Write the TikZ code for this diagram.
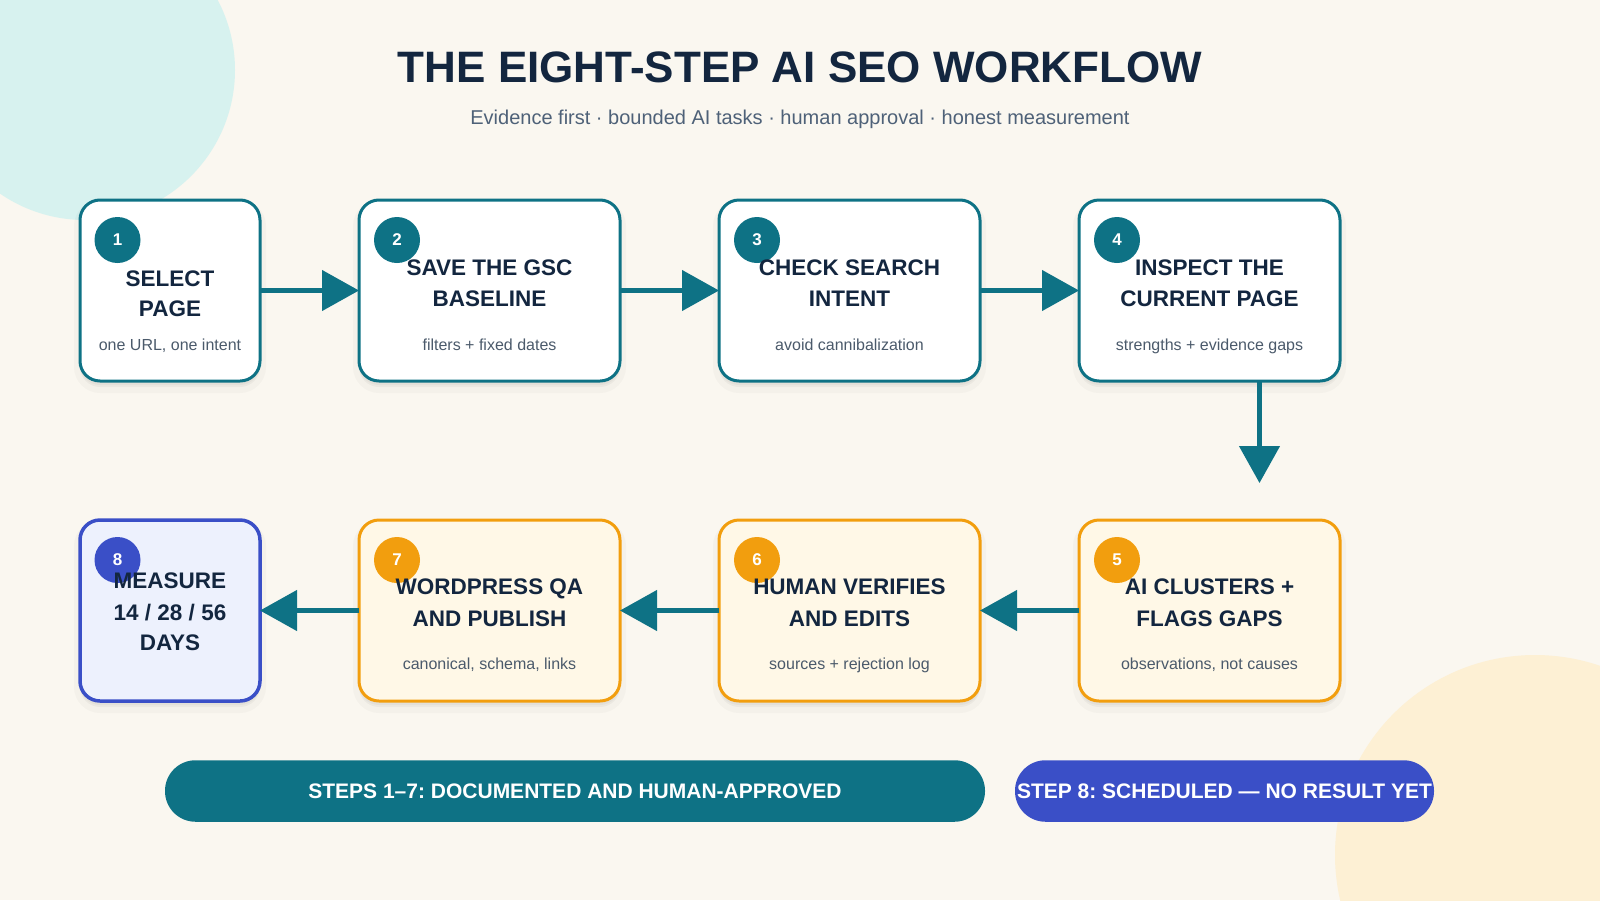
\documentclass[tikz,border=0pt]{standalone}
\usepackage{fontspec}
\setmainfont{Liberation Sans}
\frenchspacing
\usetikzlibrary{arrows.meta}
\definecolor{bgc}{HTML}{FAF7F0}
\definecolor{mint}{HTML}{D7F2EF}
\definecolor{peach}{HTML}{FDF0D4}
\definecolor{cteal}{HTML}{0E7285}
\definecolor{corange}{HTML}{F29E0E}
\definecolor{ofill}{HTML}{FFF8E7}
\definecolor{cblue}{HTML}{3A4FC7}
\definecolor{bfill}{HTML}{EDF1FD}
\definecolor{navy}{HTML}{13263F}
\definecolor{subc}{HTML}{4B5A6B}
\definecolor{subt}{HTML}{4E6178}
\tikzset{
  x=0.5pt, y=-0.5pt,
  boxbase/.style={rounded corners=10pt, line width=1.5pt, inner sep=0pt, outer sep=0pt,
    minimum height=90.5pt,
    preaction={draw=black, draw opacity=0.025, line width=6pt, fill=black, fill opacity=0.035,
      transform canvas={yshift=-3pt}},
    preaction={fill=black, fill opacity=0.03, transform canvas={yshift=-2pt}}},
  tealbox/.style={boxbase, draw=cteal, fill=white},
  orangebox/.style={boxbase, draw=corange, fill=ofill},
  bluebox/.style={boxbase, draw=cblue, fill=bfill, line width=1.75pt},
  badge/.style={circle, minimum size=23pt, inner sep=0pt, text=white,
    font=\fontsize{8.5}{10}\selectfont\bfseries},
  ttl/.style={anchor=base, inner sep=0pt, text=navy, font=\fontsize{11.25}{13}\selectfont\bfseries},
  sub/.style={anchor=base, inner sep=0pt, text=subc, font=\fontsize{8}{10}\selectfont},
  flow/.style={draw=cteal, line width=2.25pt, -{Triangle[length=18.5pt,width=20pt]}},
  pill/.style={rounded corners=15.25pt, minimum height=30.75pt, inner sep=0pt, text=white,
    font=\fontsize{10.5}{12}\selectfont\bfseries}
}
\begin{document}
\begin{tikzpicture}
\useasboundingbox (0,0) rectangle (1600,900);
\fill[bgc] (0,0) rectangle (1600,900);
\begin{scope}
\clip (0,0) rectangle (1600,900);
\fill[mint] (85,70) circle[radius=75pt];
\fill[peach] (1535,855) circle[radius=100pt];
\end{scope}

% title
\node[anchor=base, inner sep=0pt, text=navy, font=\fontsize{22}{26}\selectfont\bfseries] (title) at (800,82.5) {THE EIGHT-STEP AI SEO WORKFLOW};
\node[anchor=base, inner sep=0pt, text=subt, font=\fontsize{10}{12}\selectfont] (subtitle) at (800,124.5) {Evidence first · bounded AI tasks · human approval · honest measurement};

% row 1 boxes
\node[tealbox, minimum width=90pt] (s1) at (170,290.5) {};
\node[tealbox, minimum width=130.5pt] (s2) at (489.5,290.5) {};
\node[tealbox, minimum width=130.5pt] (s3) at (849.5,290.5) {};
\node[tealbox, minimum width=130.5pt] (s4) at (1209.5,290.5) {};
% row 2 boxes
\node[bluebox, minimum width=90pt] (s8) at (170,610.5) {};
\node[orangebox, minimum width=130.5pt] (s7) at (489.5,610.5) {};
\node[orangebox, minimum width=130.5pt] (s6) at (849.5,610.5) {};
\node[orangebox, minimum width=130.5pt] (s5) at (1209.5,610.5) {};

% badges
\node[badge, fill=cteal] (b1) at (117.5,240) {1};
\node[badge, fill=cteal] (b2) at (397,240) {2};
\node[badge, fill=cteal] (b3) at (757,240) {3};
\node[badge, fill=cteal] (b4) at (1117,240) {4};
\node[badge, fill=corange] (b5) at (1117,560) {5};
\node[badge, fill=corange] (b6) at (757,560) {6};
\node[badge, fill=corange] (b7) at (397,560) {7};
\node[badge, fill=cblue] (b8) at (117.5,560) {8};

% texts row 1
\node[ttl] (t1a) at (170,286) {SELECT};
\node[ttl] (t1b) at (170,316) {PAGE};
\node[sub] (u1) at (170,350.5) {one URL, one intent};
\node[ttl] (t2a) at (489.5,275) {SAVE THE GSC};
\node[ttl] (t2b) at (489.5,306.5) {BASELINE};
\node[sub] (u2) at (489.5,350.5) {filters + fixed dates};
\node[ttl] (t3a) at (849.5,275) {CHECK SEARCH};
\node[ttl] (t3b) at (849.5,306.5) {INTENT};
\node[sub] (u3) at (849.5,350.5) {avoid cannibalization};
\node[ttl] (t4a) at (1209.5,275) {INSPECT THE};
\node[ttl] (t4b) at (1209.5,306.5) {CURRENT PAGE};
\node[sub] (u4) at (1209.5,350.5) {strengths + evidence gaps};
% texts row 2
\node[ttl] (t5a) at (1209.5,594.5) {AI CLUSTERS +};
\node[ttl] (t5b) at (1209.5,626) {FLAGS GAPS};
\node[sub] (u5) at (1209.5,669.5) {observations, not causes};
\node[ttl] (t6a) at (849.5,594.5) {HUMAN VERIFIES};
\node[ttl] (t6b) at (849.5,626) {AND EDITS};
\node[sub] (u6) at (849.5,669.5) {sources + rejection log};
\node[ttl] (t7a) at (489.5,594.5) {WORDPRESS QA};
\node[ttl] (t7b) at (489.5,626) {AND PUBLISH};
\node[sub] (u7) at (489.5,669.5) {canonical, schema, links};
\node[ttl] (t8a) at (170,588.5) {MEASURE};
\node[ttl] (t8b) at (170,620) {14 / 28 / 56};
\node[ttl] (t8c) at (170,650) {DAYS};

% connectors
\draw[flow] (s1.east) -- (s2.west);
\draw[flow] (s2.east) -- (s3.west);
\draw[flow] (s3.east) -- (s4.west);
\coordinate (down) at (1259.5,483);
\draw[flow] ([xshift=25pt]s4.south) -- (down);
\draw[flow] (s5.west) -- (s6.east);
\draw[flow] (s6.west) -- (s7.east);
\draw[flow] (s7.west) -- (s8.east);

% bottom pills
\node[pill, fill=cteal, minimum width=410pt] (p1) at (575,791) {STEPS 1–7: DOCUMENTED AND HUMAN-APPROVED};
\node[pill, fill=cblue, minimum width=209.5pt] (p2) at (1224.5,791) {STEP 8: SCHEDULED — NO RESULT YET};
\end{tikzpicture}
\end{document}
